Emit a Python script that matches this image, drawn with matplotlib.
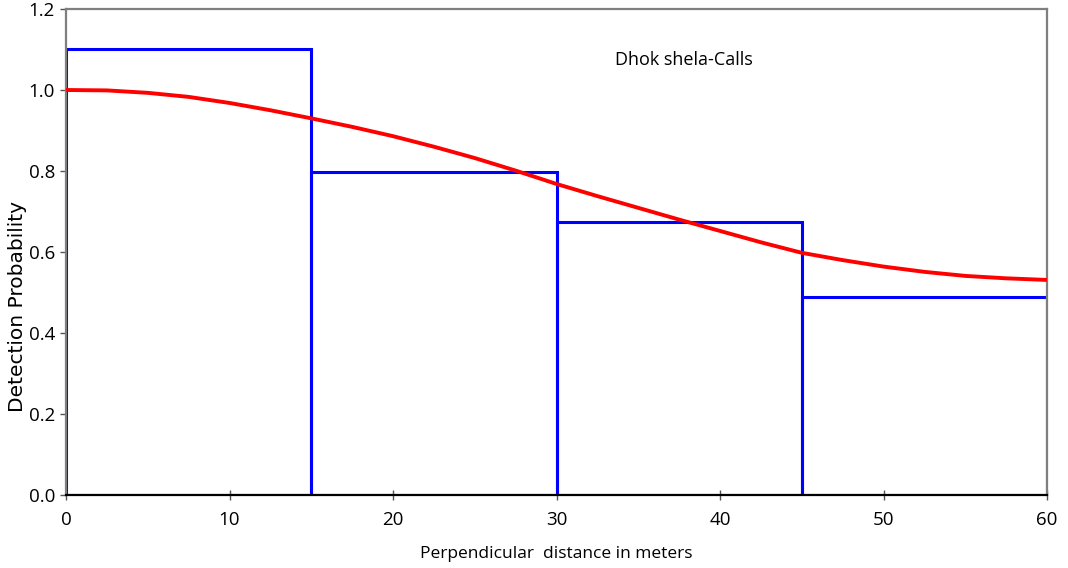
import matplotlib
matplotlib.use("Agg")
import matplotlib.pyplot as plt

# Histogram bins (perpendicular distance, m) and heights
bin_left = [0, 15, 30, 45]
bin_width = 15
bin_height = [1.10, 0.797, 0.673, 0.488]

# Fitted detection function
curve_x = [0, 2.5, 5, 7.5, 10, 12.5, 15, 17.5, 20, 22.5, 25, 27.5, 30,
           32.5, 35, 37.5, 40, 42.5, 45, 47.5, 50, 52.5, 55, 57.5, 60]
curve_y = [1.0, 0.999, 0.993, 0.983, 0.968, 0.950, 0.930, 0.909, 0.886, 0.860,
           0.832, 0.801, 0.768, 0.738, 0.709, 0.680, 0.652, 0.624, 0.598, 0.580,
           0.564, 0.551, 0.541, 0.535, 0.531]

x_ticks = [0, 10, 20, 30, 40, 50, 60]
y_ticks = [0.0, 0.2, 0.4, 0.6, 0.8, 1.0, 1.2]

fig = plt.figure(figsize=(10.68, 5.68), dpi=100)
ax = fig.add_axes([66/1068, 1 - 495/568, (1047-66)/1068, (495-9)/568])

ax.bar(bin_left, bin_height, width=bin_width, align='edge', fill=False,
       edgecolor='#0000FF', linewidth=2.2, zorder=2)
ax.plot(curve_x, curve_y, color='#FF0000', linewidth=2.8, zorder=3,
        solid_capstyle='butt', solid_joinstyle='round')

ax.set_xlim(0, 60)
ax.set_ylim(0, 1.2)
ax.set_xticks(x_ticks)
ax.set_yticks(y_ticks)
ax.set_xticklabels([str(v) for v in x_ticks])
ax.set_yticklabels([f"{v:.1f}" for v in y_ticks])

for s in ['left', 'top', 'right']:
    ax.spines[s].set_color('#7f7f7f')
    ax.spines[s].set_linewidth(1.6)
ax.spines['bottom'].set_color('black')
ax.spines['bottom'].set_linewidth(1.6)

ax.tick_params(axis='x', direction='inout', length=7, width=1, color='#555555',
               labelsize=13.5, pad=8)
ax.tick_params(axis='y', direction='out', length=4, width=1, color='#555555',
               labelsize=13.5, pad=4)
for lab in ax.get_xticklabels() + ax.get_yticklabels():
    lab.set_fontfamily('Open Sans')

ax.set_xlabel('Perpendicular  distance in meters', fontsize=12.5,
              fontfamily='Open Sans', labelpad=12)
ax.set_ylabel('Detection Probability', fontsize=14.5, fontfamily='DejaVu Sans')
ax.yaxis.set_label_coords(-0.040, 0.387)

ax.text(0.63, 0.895, 'Dhok shela-Calls', transform=ax.transAxes,
        fontsize=13, fontfamily='Open Sans', ha='center', va='center')

fig.savefig('out.png', dpi=100)
